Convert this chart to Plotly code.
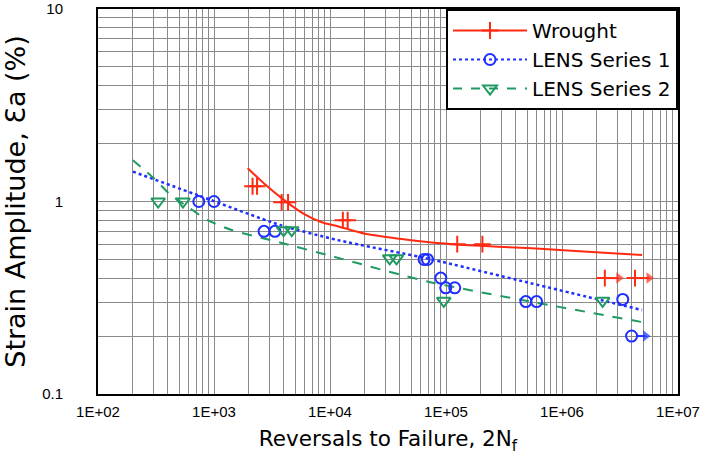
import plotly.graph_objects as go

# ---- data ----------------------------------------------------------------
# Wrought: tested specimens (reversals, strain amplitude %)
wrought_n = [2150, 2350, 3830, 4350, 12900, 14200, 125000, 206000]
wrought_eps = [1.2, 1.2, 0.99, 0.99, 0.8, 0.8, 0.6, 0.6]
# Wrought run-outs (no failure)
wrought_runout_n = [2340000, 4260000]
wrought_runout_eps = [0.4, 0.4]
# Wrought strain-life fit
wrought_fit_n = [1950, 2700, 4000, 6000, 8500, 12000, 20000, 40000, 75000,
                 140000, 280000, 550000, 1200000, 4900000]
wrought_fit_eps = [1.49, 1.24, 1.02, 0.86, 0.78, 0.74, 0.68, 0.64, 0.612,
                   0.595, 0.582, 0.571, 0.555, 0.527]

# LENS Series 1
lens1_n = [740, 1000, 2700, 3350, 64700, 69200, 90200, 99500, 119000,
           488000, 604000, 3340000]
lens1_eps = [1.0, 1.0, 0.70, 0.70, 0.50, 0.50, 0.40, 0.356, 0.356,
             0.302, 0.302, 0.31]
lens1_runout_n = [3980000]
lens1_runout_eps = [0.2]
lens1_fit_n = [200, 750, 3700, 11700, 72000, 530000, 4900000]
lens1_fit_eps = [1.43, 1.07, 0.755, 0.63, 0.503, 0.377, 0.273]

# LENS Series 2
lens2_n = [330, 540, 3980, 4680, 32700, 37400, 95700, 2240000]
lens2_eps = [1.0, 1.0, 0.71, 0.71, 0.507, 0.507, 0.305, 0.305]
lens2_fit_n = [200, 307, 414, 615, 880, 1420, 3830, 11000, 72000, 4800000]
lens2_fit_eps = [1.64, 1.31, 1.094, 0.925, 0.80, 0.711, 0.609, 0.515,
                 0.382, 0.237]

x_tick_labels = ["1E+02", "1E+03", "1E+04", "1E+05", "1E+06", "1E+07"]
y_tick_labels = ["0.1", "1", "10"]

# ---- styling -------------------------------------------------------------
RED = "#ff2a12"
BLUE = "#1f2fff"
GREEN = "#1f9a62"
GRID = "#8a8a8a"
FONT = "Liberation Sans, Arial, sans-serif"
WIDE_FONT = "DejaVu Sans, Verdana, sans-serif"
RUNOUT_STRETCH = 1.32   # arrow length for run-out specimens, as a factor on N

x_decades = [10 ** (2 + i) for i in range(len(x_tick_labels))]
y_decades = [10 ** (-1 + i) for i in range(len(y_tick_labels))]
x_minor = [m * d for d in x_decades[:-1] for m in range(2, 10)]
y_minor = [m * d for d in y_decades[:-1] for m in range(2, 10)]

fig = go.Figure()

# fit curves
fig.add_trace(go.Scatter(x=wrought_fit_n, y=wrought_fit_eps, mode="lines",
                         line=dict(color=RED, width=2, shape="spline", smoothing=0.6),
                         showlegend=False, hoverinfo="skip"))
fig.add_trace(go.Scatter(x=lens1_fit_n, y=lens1_fit_eps, mode="lines",
                         line=dict(color=BLUE, width=2.5, dash="dot", shape="spline", smoothing=0.6),
                         showlegend=False, hoverinfo="skip"))
fig.add_trace(go.Scatter(x=lens2_fit_n, y=lens2_fit_eps, mode="lines",
                         line=dict(color=GREEN, width=2, dash="10px,9px", shape="spline", smoothing=0.6),
                         showlegend=False, hoverinfo="skip"))


def runout_arrows(ns, eps, color, start_gap):
    """Short horizontal arrows showing specimens that did not fail."""
    for n, e in zip(ns, eps):
        fig.add_trace(go.Scatter(
            x=[n * start_gap, n * RUNOUT_STRETCH], y=[e, e], mode="lines+markers",
            line=dict(color=color, width=2),
            marker=dict(symbol="triangle-right", size=[0, 10], color=color,
                        line=dict(width=0)),
            showlegend=False, hoverinfo="skip"))


runout_arrows(wrought_runout_n, wrought_runout_eps, RED, 1.0)
runout_arrows(lens1_runout_n, lens1_runout_eps, BLUE, 1.1)

# specimens
cross = dict(symbol="cross-thin", size=12, line=dict(color=RED, width=2))
circ = dict(symbol="circle-open", size=11, color=BLUE, line=dict(color=BLUE, width=2))
tri = dict(symbol="triangle-down-open", size=12, color=GREEN, line=dict(color=GREEN, width=2))

fig.add_trace(go.Scatter(x=wrought_n + wrought_runout_n, y=wrought_eps + wrought_runout_eps,
                         mode="markers", marker=cross, showlegend=False))
fig.add_trace(go.Scatter(x=lens1_n + lens1_runout_n, y=lens1_eps + lens1_runout_eps,
                         mode="markers", marker=circ, showlegend=False))
fig.add_trace(go.Scatter(x=lens2_n, y=lens2_eps, mode="markers", marker=tri,
                         showlegend=False))

# legend entries
fig.add_trace(go.Scatter(x=[None], y=[None], mode="lines+markers", name="Wrought",
                         line=dict(color=RED, width=2), marker=cross))
fig.add_trace(go.Scatter(x=[None], y=[None], mode="lines+markers", name="LENS Series 1",
                         line=dict(color=BLUE, width=2, dash="dot"), marker=circ))
fig.add_trace(go.Scatter(x=[None], y=[None], mode="lines+markers", name="LENS Series 2",
                         line=dict(color=GREEN, width=2, dash="dash"), marker=tri))

axis_common = dict(type="log", showline=True, linecolor="black", linewidth=2,
                   mirror=True, showgrid=True, gridcolor=GRID, gridwidth=1,
                   ticks="", zeroline=False, automargin=False,
                   tickfont=dict(family=FONT, size=15, color="black"))

fig.update_layout(
    width=702, height=461,
    margin=dict(l=98, r=24, t=9, b=67),
    paper_bgcolor="white", plot_bgcolor="white",
    font=dict(family=FONT, color="black"),
    xaxis=dict(axis_common, range=[2, 7], tickvals=x_decades, ticktext=x_tick_labels,
               ticklabelstandoff=3,
               minor=dict(tickvals=x_minor, showgrid=True, gridcolor=GRID, gridwidth=1),
               title=dict(text="Reversals to Failure, 2N<sub>f</sub>",
                          font=dict(family=WIDE_FONT, size=21.5), standoff=12)),
    yaxis=dict(axis_common, range=[-1, 1], tickvals=y_decades, ticktext=y_tick_labels,
               ticklabelstandoff=30,
               minor=dict(tickvals=y_minor, showgrid=True, gridcolor=GRID, gridwidth=1),
               title=dict(text="Strain Amplitude, Ɛa (%)",
                          font=dict(family=WIDE_FONT, size=27), standoff=9)),
    legend=dict(x=1, y=1, xanchor="right", yanchor="top", bgcolor="white",
                bordercolor="black", borderwidth=2, itemwidth=74,
                font=dict(family=WIDE_FONT, size=20, color="black"), tracegroupgap=0),
)

fig.write_html("out.html")
